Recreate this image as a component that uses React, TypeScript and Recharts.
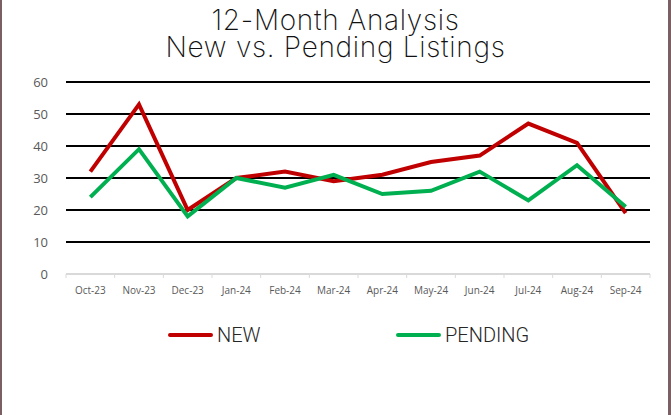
import React from "react";
import { LineChart, Line, XAxis, YAxis, CartesianGrid } from "recharts";

const months = ["Oct-23", "Nov-23", "Dec-23", "Jan-24", "Feb-24", "Mar-24", "Apr-24", "May-24", "Jun-24", "Jul-24", "Aug-24", "Sep-24"];
const newListings = [32, 53, 20, 30, 32, 29, 31, 35, 37, 47, 41, 19];
const pendingListings = [24, 39, 18, 30, 27, 31, 25, 26, 32, 23, 34, 21];
const yTicks = [0, 10, 20, 30, 40, 50, 60];
const titleLines = ["12-Month Analysis", "New vs. Pending Listings"];

const data = months.map((m, i) => ({ month: m, NEW: newListings[i], PENDING: pendingListings[i] }));

const RED = "#c00000";
const GREEN = "#00b050";

const XTick = (props: any) => {
  const { x, y, payload, index } = props;
  const half = payload && payload.offset ? payload.offset : 24.3;
  return (
    <g>
      <line x1={x - half} x2={x - half} y1={y - 14} y2={y - 10} stroke="#d9d9d9" strokeWidth={1} />
      {index === months.length - 1 && (
        <line x1={x + half} x2={x + half} y1={y - 14} y2={y - 10} stroke="#d9d9d9" strokeWidth={1} />
      )}
      <text x={x} y={y} dy={6} textAnchor="middle" fill="#595959" fontSize={10} fontFamily="'Open Sans', sans-serif">
        {payload.value}
      </text>
    </g>
  );
};

const legendItems = [
  { name: "NEW", color: RED, left: 168 },
  { name: "PENDING", color: GREEN, left: 396 },
];

export default function App() {
  return (
    <div
      style={{
        position: "absolute",
        left: 0,
        top: 0,
        width: 671,
        height: 415,
        background: "#ffffff",
        boxSizing: "border-box",
        borderLeft: "2px solid #7a5f63",
        borderRight: "3px solid #7a5f63",
        overflow: "hidden",
      }}
    >
      <div
        style={{
          position: "absolute",
          left: -2,
          top: 7,
          width: 671,
          textAlign: "center",
          fontFamily: "Inter, sans-serif",
          fontWeight: 200,
          fontSize: 28,
          lineHeight: "27px",
          color: "#111111",
          letterSpacing: 0.7,
          whiteSpace: "nowrap",
        }}
      >
        {titleLines[0]}
        <br />
        {titleLines[1]}
      </div>
      <div style={{ position: "absolute", left: -2, top: 0 }}>
        <LineChart width={671} height={415} data={data} margin={{ top: 82, right: 21, bottom: 111, left: 0 }}>
          <CartesianGrid vertical={false} stroke="#000000" strokeWidth={2} />
          <XAxis
            dataKey="month"
            scale="band"
            height={30}
            tickLine={false}
            axisLine={{ stroke: "#d9d9d9", strokeWidth: 2 }}
            tick={<XTick />}
            tickSize={0}
            tickMargin={14}
            interval={0}
          />
          <YAxis
            width={66}
            domain={[0, 60]}
            ticks={yTicks}
            axisLine={false}
            tickLine={false}
            tickSize={0}
            tickMargin={18}
            tick={{ fill: "#595959", fontSize: 13, fontFamily: "'Open Sans', sans-serif" }}
          />
          <Line type="linear" dataKey="NEW" stroke={RED} strokeWidth={4} dot={false} isAnimationActive={false} />
          <Line type="linear" dataKey="PENDING" stroke={GREEN} strokeWidth={4} dot={false} isAnimationActive={false} />
        </LineChart>
      </div>
      <div style={{ position: "absolute", left: -2, top: 323, width: 671, height: 30, fontFamily: "Roboto, 'Open Sans', sans-serif", fontSize: 20, fontWeight: 300, color: "#262626" }}>
        {legendItems.map((it) => (
          <div key={it.name} style={{ position: "absolute", left: it.left, top: 0, display: "flex", alignItems: "center" }}>
            <div style={{ width: 45, height: 4, background: it.color, borderRadius: 2, marginRight: 4 }} />
            <span>{it.name}</span>
          </div>
        ))}
      </div>
    </div>
  );
}
